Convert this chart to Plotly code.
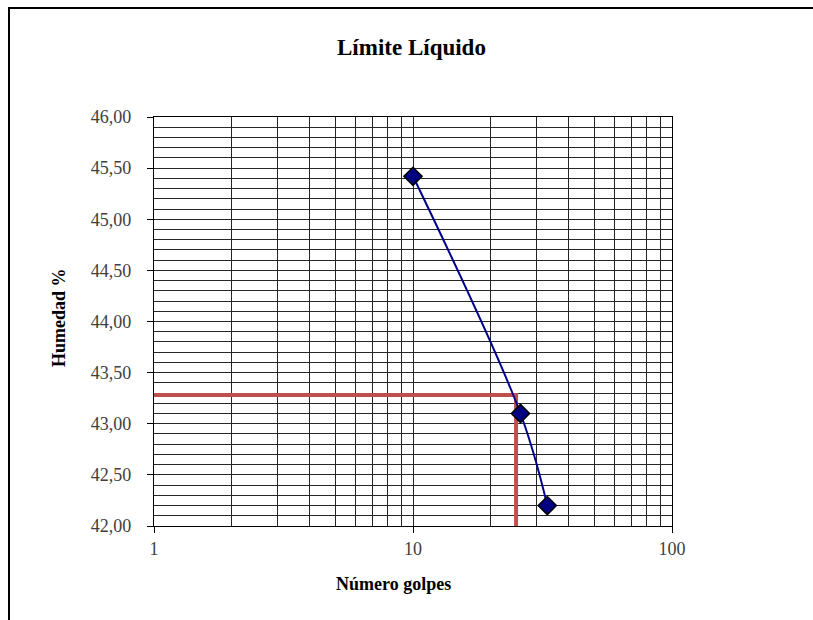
import plotly.graph_objects as go

# Data
golpes = [10, 26, 33]
humedad = [45.42, 43.10, 42.20]
ll_golpes = 25
ll_humedad = 43.28
x_major = [1, 10, 100]
x_minor = [2, 3, 4, 5, 6, 7, 8, 9, 20, 30, 40, 50, 60, 70, 80, 90]

SERIF = "Liberation Serif, Times New Roman, serif"

# plot area in pixels
L, R, T, B = 154, 672, 117, 526
PW, PH = R - L, B - T


def px(x):
    return (x - L) / PW


def py(y):
    return (B - y) / PH


fig = go.Figure()

# Liquid limit guide lines (red)
fig.add_trace(go.Scatter(
    x=[1, ll_golpes, ll_golpes],
    y=[ll_humedad, ll_humedad, 42.0],
    mode="lines",
    line=dict(color="#C0504D", width=4),
    hoverinfo="skip",
    showlegend=False,
))

# Measured points
fig.add_trace(go.Scatter(
    x=golpes, y=humedad,
    mode="lines+markers",
    line=dict(color="#00008B", width=2, shape="spline", smoothing=1),
    marker=dict(symbol="diamond", size=14, color="#000080",
                line=dict(color="black", width=1.5)),
    showlegend=False,
))

grid = "#262626"
fig.update_xaxes(
    type="log",
    range=[0, 2],
    tickvals=x_major,
    ticktext=[str(v) for v in x_major],
    ticks="outside", ticklen=6, tickcolor="black", tickwidth=1,
    showgrid=True, gridcolor=grid, gridwidth=1.3,
    minor=dict(tickvals=x_minor, showgrid=True, gridcolor=grid, gridwidth=1.3, ticks=""),
    showline=True, linecolor="black", linewidth=1.3, mirror=True,
    zeroline=False,
    tickfont=dict(family=SERIF, size=18, color="#404040"),
)
fig.update_yaxes(
    range=[42, 46],
    dtick=0.5, tick0=42,
    tickformat=".2f",
    ticks="outside", ticklen=6, tickcolor="black", tickwidth=1,
    ticklabelstandoff=12,
    showgrid=True, gridcolor=grid, gridwidth=1.3,
    minor=dict(dtick=0.1, showgrid=True, gridcolor=grid, gridwidth=1.3, ticks=""),
    showline=True, linecolor="black", linewidth=1.3, mirror=True,
    zeroline=False,
    tickfont=dict(family=SERIF, size=18, color="#404040"),
)

fig.update_layout(
    width=813, height=620,
    margin=dict(l=L, r=813 - R, t=T, b=620 - B),
    paper_bgcolor="white", plot_bgcolor="white",
    separators=",.",
    showlegend=False,
    shapes=[dict(type="rect", xref="paper", yref="paper",
                 x0=px(9), x1=px(830), y0=py(640), y1=py(8),
                 line=dict(color="black", width=2), fillcolor="rgba(0,0,0,0)",
                 layer="below")],
    annotations=[
        dict(text="<b>Límite Líquido</b>", xref="paper", yref="paper",
             x=px(411), y=py(47), showarrow=False,
             font=dict(family=SERIF, size=23, color="black"),
             xanchor="center", yanchor="middle"),
        dict(text="<b>Número golpes</b>", xref="paper", yref="paper",
             x=px(393), y=py(584), showarrow=False,
             font=dict(family=SERIF, size=18, color="black"),
             xanchor="center", yanchor="middle"),
        dict(text="<b>Humedad %</b>", xref="paper", yref="paper",
             x=px(59), y=py(318), showarrow=False,
             textangle=-90,
             font=dict(family=SERIF, size=18, color="black"),
             xanchor="center", yanchor="middle"),
    ],
)

fig.write_html("out.html")
